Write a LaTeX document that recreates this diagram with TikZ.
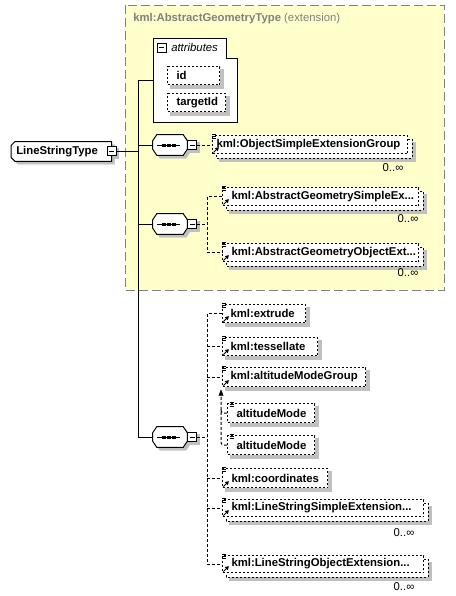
\documentclass[tikz,border=0pt]{standalone}
\usepackage{fontspec}
\setmainfont{Liberation Sans}
\pgfdeclarelayer{back}
\pgfdeclarelayer{bg}
\pgfdeclarelayer{mid}
\pgfsetlayers{back,bg,mid,main}
\definecolor{yel}{RGB}{255,255,204}
\definecolor{shd}{RGB}{192,192,192}
\definecolor{frame}{RGB}{128,128,128}
\newcommand\fsz{\fontsize{8.5}{10}\selectfont}
\tikzset{
  every node/.style={font=\fsz},
  conn/.style={line width=0.75pt, dash pattern=on 2.25pt off 1.5pt},
  trunk/.style={line width=0.75pt},
  subst/.style={line width=0.75pt, dash pattern=on 2.25pt off 1.5pt},
  elbase/.style={draw, line width=0.75pt, dash pattern=on 1.5pt off 1.5pt, fill=white,
    font=\fsz\bfseries, inner ysep=0pt},
  shadowfill/.style={fill=shd, draw=shd, line width=0.1pt},
  dotfill/.style={fill=black, draw=black, line width=0.1pt},
  tipfill/.style={fill=black, draw=black, line width=0.3pt, solid},
  minus/.style={draw, line width=0.75pt, fill=white, minimum size=6.75pt, inner sep=0pt,
    path picture={\draw[line width=0.75pt] ([xshift=1.3pt]path picture bounding box.west) --
      ([xshift=-1.3pt]path picture bounding box.east);}},
  holder/.style={draw=none, inner sep=0pt},
  mult/.style={inner sep=0pt, font=\fsz},
}
% gray shadow of a rectangular node, offset #2 px
\newcommand\shbox[2]{%
  \begin{pgfonlayer}{bg}\draw[shadowfill] ([shift={(#2,#2)}]#1.north west) rectangle ([shift={(#2,#2)}]#1.south east);\end{pgfonlayer}}
% second (repeated) box behind a node
\newcommand\copybox[1]{%
  \begin{pgfonlayer}{mid}\draw[elbase] ([shift={(4,4)}]#1.north west) rectangle ([shift={(4,4)}]#1.south east);\end{pgfonlayer}}
% name x y w h xsep style text
\newcommand\mkel[8]{%
  \pgfmathsetmacro\elTW{(#4-2*#6)*0.75}%
  \node[#7, anchor=north west, inner xsep=#6*0.75pt, minimum height=#5*0.75pt,
    text width=\elTW pt, align=left] (#1) at (#2,#3) {#8};}
\newcommand\single[1]{\shbox{#1}{3}}
\newcommand\multi[1]{\shbox{#1}{7}\copybox{#1}}
\newcommand\docic[2]{%
  \draw[line width=0.6pt] ([shift={(#2,-0.5)}]#1.north west) -- ++(4,0)
    ([shift={(#2,1.5)}]#1.north west) -- ++(4,0)
    ([shift={(#2,3.5)}]#1.north west) -- ++(4,0);}
\newcommand\refic[1]{%
  \docic{#1}{0}%
  \draw[line width=0.75pt] ([shift={(1.5,-1.5)}]#1.south west) -- ++(3.5,-3.5);
  \draw[tipfill] ([shift={(6.5,-6.5)}]#1.south west) -- ([shift={(3.3,-5.7)}]#1.south west)
    -- ([shift={(5.7,-3.3)}]#1.south west) -- cycle;}
% octagon outline around a holder node
\newcommand\octpath[1]{([shift={(4,0)}]#1.north west) -- ([shift={(-4,0)}]#1.north east)
  -- ([shift={(0,6)}]#1.north east) -- ([shift={(0,-6)}]#1.south east)
  -- ([shift={(-4,0)}]#1.south east) -- ([shift={(4,0)}]#1.south west)
  -- ([shift={(0,-6)}]#1.south west) -- ([shift={(0,6)}]#1.north west) -- cycle}
\newcommand\seqshape[1]{%
  \begin{pgfonlayer}{bg}\draw[shadowfill, transform canvas={shift={(2.25pt,-2.25pt)}}] \octpath{#1};\end{pgfonlayer}
  \draw[line width=0.75pt, fill=white] \octpath{#1};
  \draw[line width=0.75pt] ([shift={(-13,0)}]#1.center) -- ([shift={(10,0)}]#1.center);
  \foreach \d in {-6.5,-1.5,3.5} \draw[dotfill] ([shift={(\d-1.3,-1.3)}]#1.center) rectangle ++(2.6,2.6);}
% type shape: left corners cut
\newcommand\ctpath[1]{([shift={(4,0)}]#1.north west) -- (#1.north east) -- (#1.south east)
  -- ([shift={(4,0)}]#1.south west) -- ([shift={(0,-4)}]#1.south west) -- ([shift={(0,4)}]#1.north west) -- cycle}

\begin{document}
\begin{tikzpicture}[x=0.75pt,y=-0.75pt]
\useasboundingbox (0,0) rectangle (455,596);

\begin{pgfonlayer}{back}
\draw[fill=white, draw=white] (0,0) rectangle (455,596);
% extension frame
\draw[fill=yel, draw=frame, line width=0.75pt, dash pattern=on 6.75pt off 3pt] (125,5) rectangle (444,290);
% attributes
\draw[line width=0.75pt, fill=white] (153,38) -- (226,38) -- (226,58) -- (237,58) -- (237,122) -- (153,122) -- cycle;
\end{pgfonlayer}
\node[anchor=west, text=frame, inner sep=0pt] (title) at (133,19)
  {\textbf{kml:AbstractGeometryType} (extension)};
\node[minus] (amin) at (161.5,47.5) {};
\node[anchor=west, inner sep=0pt] (attrlbl) at (171,47) {\itshape attributes};
\mkel{id}{167}{66}{52}{18}{9}{elbase}{id}
\mkel{tid}{167}{93}{58}{18}{9}{elbase}{targetId}
\single{id}\single{tid}
\coordinate (attrin) at (153,80);

% complex type
\node[holder, anchor=north west, minimum width=75pt, minimum height=14.5pt] (lst) at (11,141.5) {};
\begin{pgfonlayer}{bg}\draw[shadowfill, transform canvas={shift={(2.25pt,-2.25pt)}}] \ctpath{lst};\end{pgfonlayer}
\draw[line width=0.75pt, fill=white] \ctpath{lst};
\node[anchor=west, inner sep=0pt, font=\fsz\bfseries] (lsttxt) at ([xshift=3.75pt]lst.west) {LineStringType};
\node[minus] (lmin) at (lst.east) {};
\shbox{lmin}{2}

% sequences
\node[holder, minimum width=25.5pt, minimum height=15pt] (s1) at (170,145) {};
\node[holder, minimum width=25.5pt, minimum height=15pt] (s2) at (170,224) {};
\node[holder, minimum width=25.5pt, minimum height=15pt] (s3) at (170,437) {};
\seqshape{s1}\seqshape{s2}\seqshape{s3}
\node[minus, anchor=west] (m1) at (s1.east) {};
\node[minus, anchor=west] (m2) at (s2.east) {};
\node[minus, anchor=west] (m3) at (s3.east) {};
\shbox{m1}{2}\shbox{m2}{2}\shbox{m3}{2}

% trunk
\coordinate (T) at (138,80);
\draw[trunk] (lmin.east) -- (lmin.east -| T);
\draw[trunk] (attrin) -- (T) -- (T |- s3.west) -- (s3.west);
\draw[trunk] (T |- s1.west) -- (s1.west);
\draw[trunk] (T |- s2.west) -- (s2.west);

% group 1
\mkel{e1}{212}{135}{195}{18}{4}{elbase}{kml:ObjectSimpleExtensionGroup}
\multi{e1}\refic{e1}
\node[mult] (me1) at (393,168) {0..∞};
\draw[conn] (m1.east) -- (m1.east -| e1.west);

% group 2
\mkel{e2a}{222}{187}{196}{18}{9}{elbase}{kml:AbstractGeometrySimpleEx...}
\mkel{e2b}{222}{243}{196}{18}{9}{elbase}{kml:AbstractGeometryObjectExt...}
\multi{e2a}\multi{e2b}
\refic{e2a}\refic{e2b}
\node[mult] (me2a) at (408,219) {0..∞};
\node[mult] (me2b) at (408,273) {0..∞};
\coordinate (t2) at ([xshift=7.5pt]m2.east);
\draw[conn] (m2.east) -- (t2);
\draw[conn] (e2a.west) -| (t2) |- (e2b.west);

% group 3
\mkel{e3a}{222}{304}{83}{18}{8}{elbase}{kml:extrude}
\mkel{e3b}{222}{337}{95}{18}{8}{elbase}{kml:tessellate}
\mkel{amg}{222}{367}{143}{19}{8}{elbase}{kml:altitudeModeGroup}
\mkel{am1}{227}{403}{87}{19}{9}{elbase}{altitudeMode}
\mkel{am2}{227}{435}{87}{19}{9}{elbase}{altitudeMode}
\mkel{e3c}{222}{468}{105}{19}{9}{elbase}{kml:coordinates}
\mkel{e3d}{222}{499}{201}{17}{9}{elbase}{kml:LineStringSimpleExtension...}
\mkel{e3e}{222}{555}{201}{17}{9}{elbase}{kml:LineStringObjectExtension...}
\single{e3a}\single{e3b}\single{amg}\single{am1}\single{am2}\single{e3c}
\multi{e3d}\multi{e3e}
\refic{e3a}\refic{e3b}\refic{amg}\refic{e3c}\refic{e3d}\refic{e3e}
\docic{am1}{3}\docic{am2}{3}
\node[mult] (me3d) at (404,533) {0..∞};
\node[mult] (me3e) at (404,587) {0..∞};
\coordinate (t3) at ([xshift=7.5pt]m3.east);
\draw[conn] (m3.east) -- (t3);
\draw[conn] (e3a.west) -| (t3) |- (e3e.west);
\foreach \n in {e3b,amg,e3c,e3d} \draw[conn] (t3 |- \n.west) -- (\n.west);

% substitution group
\coordinate (subtip) at ([shift={(-1,3)}]amg.south west);
\draw[subst, rounded corners=2pt] (am2.west) -| ([shift={(0,5)}]subtip);
\draw[tipfill] (subtip) -- ([shift={(-2.2,5.5)}]subtip) -- ([shift={(2.2,5.5)}]subtip) -- cycle;
\draw[subst, rounded corners=2pt] (am1.west) -| ([shift={(-6,-4)}]am1.west);
\end{tikzpicture}
\end{document}
